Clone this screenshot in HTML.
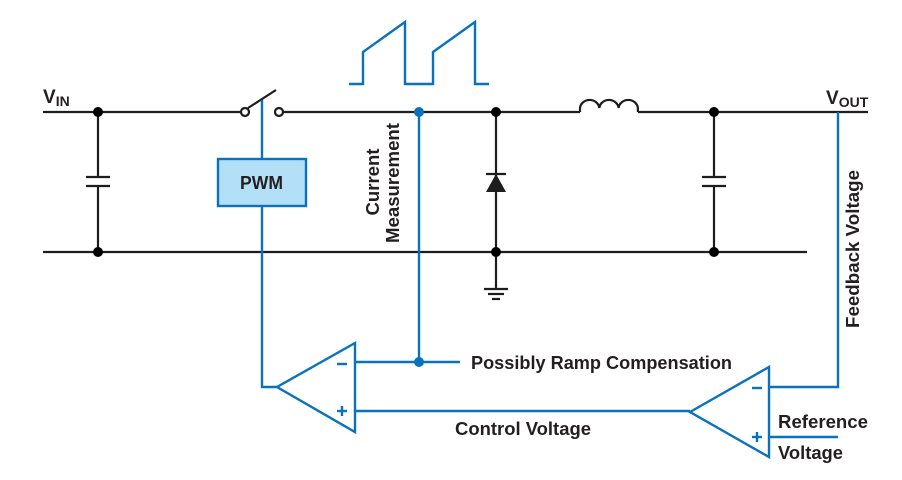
<!DOCTYPE html>
<html><head><meta charset="utf-8"><style>
html,body{margin:0;padding:0;background:#fff;}
svg{display:block;}
text{font-family:"Liberation Sans",sans-serif;font-weight:bold;fill:#231f20;}
</style></head><body>
<svg width="902" height="480" viewBox="0 0 902 480" xmlns="http://www.w3.org/2000/svg">
<g stroke="#1d1d1f" stroke-width="2.2" fill="none">
<line x1="43" y1="112" x2="241" y2="112"/>
<line x1="283" y1="112" x2="580" y2="112"/>
<line x1="638" y1="112" x2="868" y2="112"/>
<line x1="43" y1="252" x2="807" y2="252"/>
<circle cx="245" cy="112" r="4" fill="#fff"/>
<circle cx="279" cy="112" r="4" fill="#fff"/>
<line x1="248" y1="108" x2="276" y2="90"/>
<line x1="98" y1="112" x2="98" y2="177"/><line x1="98" y1="186" x2="98" y2="252"/>
<line x1="86" y1="177" x2="110" y2="177"/><line x1="86" y1="186" x2="110" y2="186"/>
<line x1="714" y1="112" x2="714" y2="177"/><line x1="714" y1="186" x2="714" y2="252"/>
<line x1="702" y1="177" x2="726" y2="177"/><line x1="702" y1="186" x2="726" y2="186"/>
<line x1="496" y1="112" x2="496" y2="289"/>
<line x1="486" y1="174" x2="506" y2="174"/>
<line x1="484" y1="289" x2="508" y2="289"/><line x1="488" y1="294" x2="504" y2="294"/><line x1="492" y1="299" x2="500" y2="299"/>
<path d="M580 112 V108 a9.7 9 0 0 1 19.3 0 a9.7 9 0 0 1 19.3 0 a9.7 9 0 0 1 19.3 0 V112"/>
</g>
<polygon points="486,192 506,192 496,174" fill="#1d1d1f"/>
<g fill="#000"><circle cx="98" cy="112" r="5"/><circle cx="98" cy="252" r="5"/><circle cx="496" cy="112" r="5"/><circle cx="496" cy="252" r="5"/><circle cx="714" cy="112" r="5"/><circle cx="714" cy="252" r="5"/></g>
<g stroke="#0a72bd" stroke-width="2.4" fill="none">
<polyline points="349,84 363,84 363,52 405,22 405,84 433,84 433,52 475,22 475,84 489,84"/>
<line x1="262" y1="100" x2="262" y2="159"/>
<polyline points="262,206 262,387 277,387"/>
<line x1="419" y1="112" x2="419" y2="362"/>
<polygon points="277,387 355,343 355,432"/>
<line x1="355" y1="362" x2="460" y2="362"/>
<line x1="355" y1="411" x2="690" y2="411"/>
<polygon points="690,412 769,367 769,457"/>
<polyline points="769,387 838,387 838,112"/>
<line x1="769" y1="437" x2="838" y2="437"/>
<line x1="337" y1="364" x2="347" y2="364"/>
<line x1="337" y1="411" x2="347" y2="411"/><line x1="342" y1="406" x2="342" y2="416"/>
<line x1="752" y1="388" x2="762" y2="388"/>
<line x1="752" y1="437" x2="762" y2="437"/><line x1="757" y1="432" x2="757" y2="442"/>
</g>
<rect x="218" y="159" width="88" height="47" fill="#b3e0f7" stroke="#0a72bd" stroke-width="2.4"/>
<g fill="#0a72bd"><circle cx="419" cy="112" r="5"/><circle cx="419" cy="362" r="5"/></g>
<text x="240" y="189" font-size="18" textLength="43" lengthAdjust="spacingAndGlyphs">PWM</text>
<text x="43" y="103" font-size="19">V<tspan font-size="14" dy="3">IN</tspan></text>
<text x="826" y="104" font-size="19">V<tspan font-size="14" dy="3">OUT</tspan></text>
<text transform="translate(379,182) rotate(-90)" font-size="18" text-anchor="middle" textLength="67" lengthAdjust="spacingAndGlyphs">Current</text>
<text transform="translate(399,183) rotate(-90)" font-size="18" text-anchor="middle" textLength="120" lengthAdjust="spacingAndGlyphs">Measurement</text>
<text transform="translate(859,249) rotate(-90)" font-size="18" text-anchor="middle" textLength="158" lengthAdjust="spacingAndGlyphs">Feedback Voltage</text>
<text x="471" y="369" font-size="18" textLength="261" lengthAdjust="spacingAndGlyphs">Possibly Ramp Compensation</text>
<text x="455" y="435" font-size="18" textLength="136" lengthAdjust="spacingAndGlyphs">Control Voltage</text>
<text x="778" y="428" font-size="18" textLength="90" lengthAdjust="spacingAndGlyphs">Reference</text>
<text x="778" y="459" font-size="18" textLength="65" lengthAdjust="spacingAndGlyphs">Voltage</text>
</svg>
</body></html>
